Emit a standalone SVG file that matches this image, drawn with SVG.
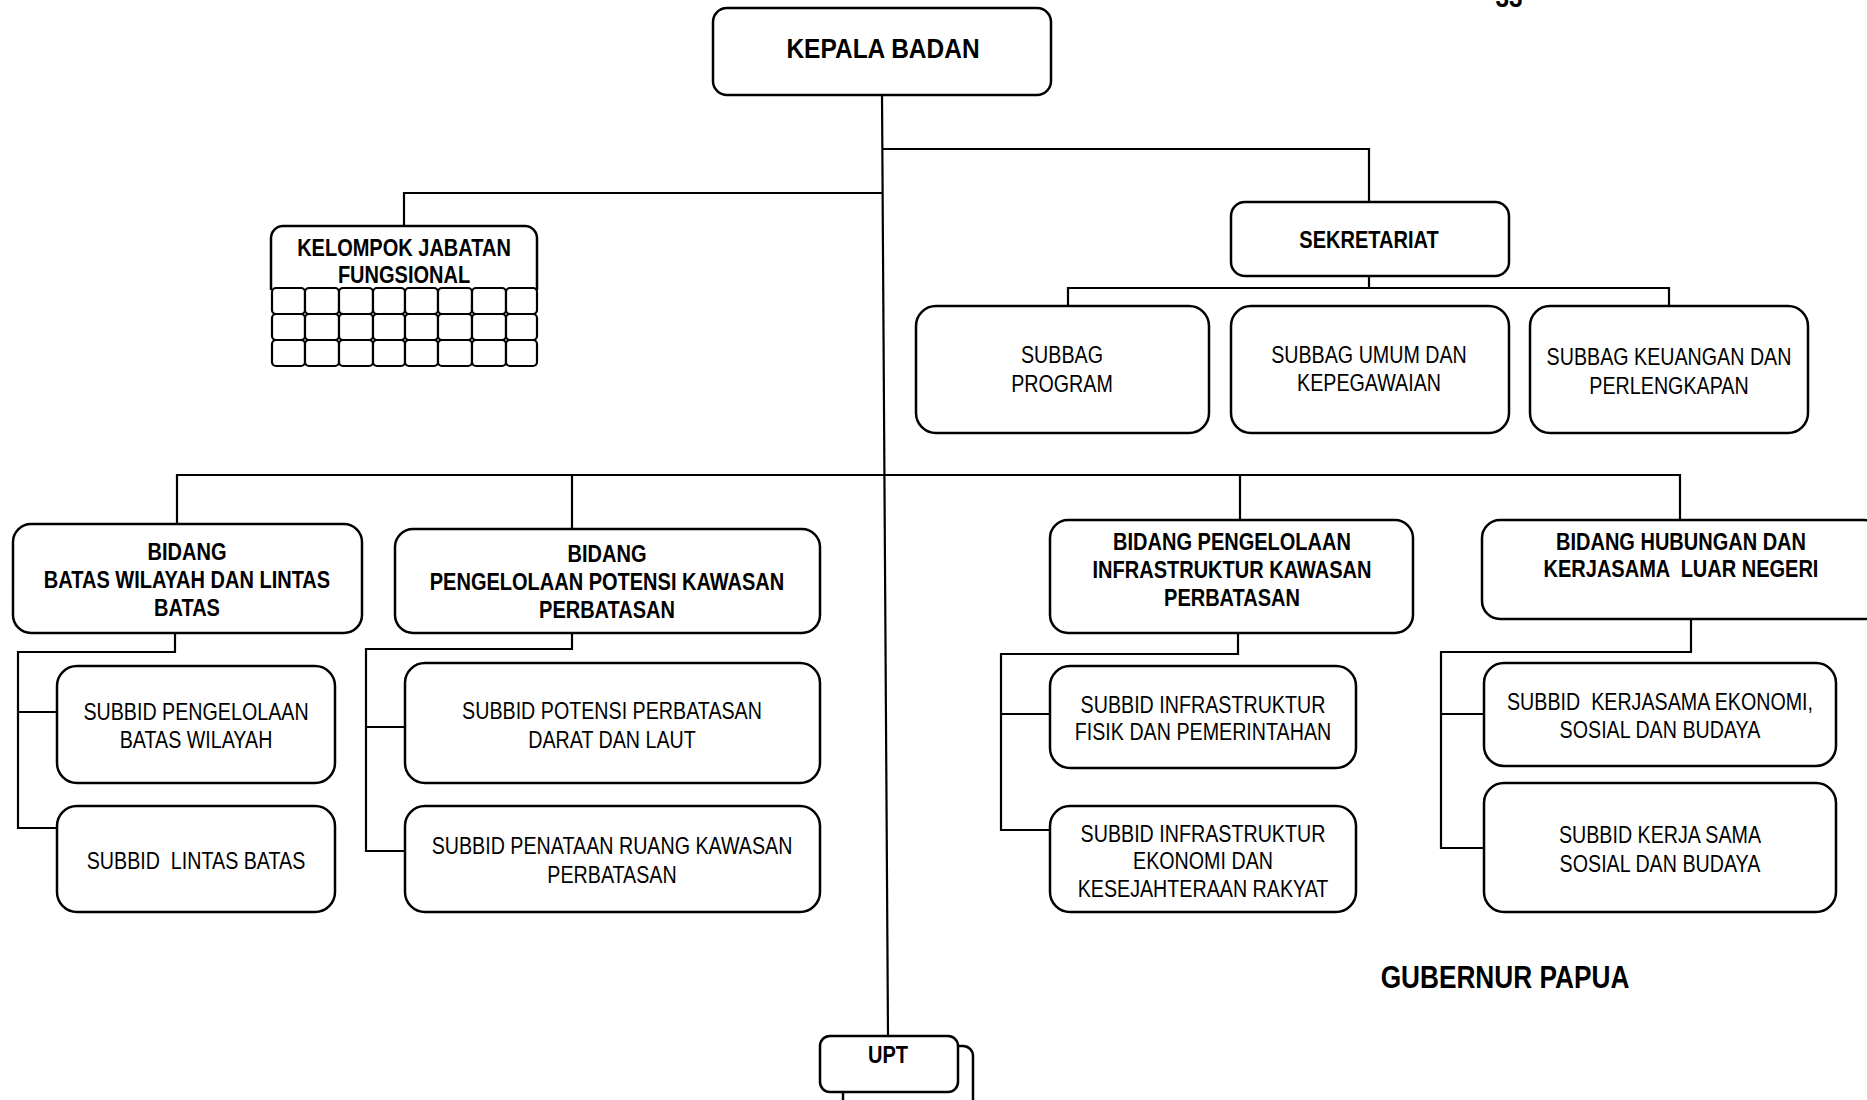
<svg xmlns="http://www.w3.org/2000/svg" width="1867" height="1100" viewBox="0 0 1867 1100">
<style>
.box{fill:#fff;stroke:#000;stroke-width:2.5}
.cell{fill:#fff;stroke:#000;stroke-width:2.2}
.ln{fill:none;stroke:#000;stroke-width:2.2}
text{font-family:"Liberation Sans",Arial,sans-serif;text-anchor:middle;fill:#000}
.b{font-weight:bold;font-size:23px}
.r{font-size:24px}
.big{font-weight:bold;font-size:28px}
.gub{font-weight:bold;font-size:32px}
</style>
<rect width="1867" height="1100" fill="#fff"/>
<g id="connectors">
<path class="ln" d="M882,95 L888,1036"/>
<path class="ln" d="M883,149 H1369 V202"/>
<path class="ln" d="M883,193 H404 V226"/>
<path class="ln" d="M1369,276 V288 M1068,306 V288 H1669 V306"/>
<path class="ln" d="M177,524 V475 H1680 V520 M572,475 V529 M1240,475 V520"/>
<path class="ln" d="M175,633 V652 H18 V828 H57 M18,712 H57"/>
<path class="ln" d="M572,633 V649 H366 V851 H405 M366,727 H405"/>
<path class="ln" d="M1238,633 V654 H1001 V830 H1050 M1001,714 H1050"/>
<path class="ln" d="M1691,619 V652 H1441 V848 H1484 M1441,714 H1484"/>
</g>
<g id="page-number"><text class="big" transform="translate(1509 7) scale(.87 1)">33</text></g>
<g id="kepala-badan">
<rect class="box" x="713" y="8" width="338" height="87" rx="14"/>
<text class="big" transform="translate(883 58) scale(.875 1)">KEPALA BADAN</text>
</g>
<g id="kelompok-jabatan-fungsional">
<path class="box" d="M271,290 V238 A12,12 0 0 1 283,226 H525 A12,12 0 0 1 537,238 V290"/>
<g>
<rect class="cell" x="272" y="288" width="33" height="26" rx="4"/><rect class="cell" x="305" y="288" width="34" height="26" rx="4"/><rect class="cell" x="339" y="288" width="34" height="26" rx="4"/><rect class="cell" x="373" y="288" width="32" height="26" rx="4"/><rect class="cell" x="405" y="288" width="33" height="26" rx="4"/><rect class="cell" x="438" y="288" width="34" height="26" rx="4"/><rect class="cell" x="472" y="288" width="34" height="26" rx="4"/><rect class="cell" x="506" y="288" width="31" height="26" rx="4"/>
<rect class="cell" x="272" y="314" width="33" height="26" rx="4"/><rect class="cell" x="305" y="314" width="34" height="26" rx="4"/><rect class="cell" x="339" y="314" width="34" height="26" rx="4"/><rect class="cell" x="373" y="314" width="32" height="26" rx="4"/><rect class="cell" x="405" y="314" width="33" height="26" rx="4"/><rect class="cell" x="438" y="314" width="34" height="26" rx="4"/><rect class="cell" x="472" y="314" width="34" height="26" rx="4"/><rect class="cell" x="506" y="314" width="31" height="26" rx="4"/>
<rect class="cell" x="272" y="340" width="33" height="26" rx="4"/><rect class="cell" x="305" y="340" width="34" height="26" rx="4"/><rect class="cell" x="339" y="340" width="34" height="26" rx="4"/><rect class="cell" x="373" y="340" width="32" height="26" rx="4"/><rect class="cell" x="405" y="340" width="33" height="26" rx="4"/><rect class="cell" x="438" y="340" width="34" height="26" rx="4"/><rect class="cell" x="472" y="340" width="34" height="26" rx="4"/><rect class="cell" x="506" y="340" width="31" height="26" rx="4"/>
</g>
<text class="b" transform="translate(404 256) scale(.87 1)">KELOMPOK JABATAN<tspan x="0" dy="27">FUNGSIONAL</tspan></text>
</g>
<g id="sekretariat">
<rect class="box" x="1231" y="202" width="278" height="74" rx="14"/>
<text class="b" transform="translate(1369 248) scale(.87 1)">SEKRETARIAT</text>
</g>
<g id="subbag-program">
<rect class="box" x="916" y="306" width="293" height="127" rx="20"/>
<text class="r" transform="translate(1062 363) scale(.82 1)">SUBBAG<tspan x="0" dy="29">PROGRAM</tspan></text>
</g>
<g id="subbag-umum">
<rect class="box" x="1231" y="306" width="278" height="127" rx="20"/>
<text class="r" transform="translate(1369 363) scale(.82 1)">SUBBAG UMUM DAN<tspan x="0" dy="28">KEPEGAWAIAN</tspan></text>
</g>
<g id="subbag-keuangan">
<rect class="box" x="1530" y="306" width="278" height="127" rx="20"/>
<text class="r" transform="translate(1669 365) scale(.82 1)">SUBBAG KEUANGAN DAN<tspan x="0" dy="29">PERLENGKAPAN</tspan></text>
</g>
<g id="bidang-batas">
<rect class="box" x="13" y="524" width="349" height="109" rx="18"/>
<text class="b" transform="translate(187 560) scale(.87 1)">BIDANG<tspan x="0" dy="28">BATAS WILAYAH DAN LINTAS</tspan><tspan x="0" dy="28">BATAS</tspan></text>
</g>
<g id="bidang-potensi">
<rect class="box" x="395" y="529" width="425" height="104" rx="18"/>
<text class="b" transform="translate(607 562) scale(.87 1)">BIDANG<tspan x="0" dy="28">PENGELOLAAN POTENSI KAWASAN</tspan><tspan x="0" dy="28">PERBATASAN</tspan></text>
</g>
<g id="bidang-infrastruktur">
<rect class="box" x="1050" y="520" width="363" height="113" rx="18"/>
<text class="b" transform="translate(1232 550) scale(.87 1)">BIDANG PENGELOLAAN<tspan x="0" dy="28">INFRASTRUKTUR KAWASAN</tspan><tspan x="0" dy="28">PERBATASAN</tspan></text>
</g>
<g id="bidang-hubungan">
<rect class="box" x="1482" y="520" width="400" height="99" rx="18"/>
<text class="b" transform="translate(1681 550) scale(.87 1)">BIDANG HUBUNGAN DAN<tspan x="0" dy="27" xml:space="preserve">KERJASAMA  LUAR NEGERI</tspan></text>
</g>
<g id="subbid-pengelolaan-batas">
<rect class="box" x="57" y="666" width="278" height="117" rx="20"/>
<text class="r" transform="translate(196 720) scale(.82 1)">SUBBID PENGELOLAAN<tspan x="0" dy="28">BATAS WILAYAH</tspan></text>
</g>
<g id="subbid-lintas-batas">
<rect class="box" x="57" y="806" width="278" height="106" rx="20"/>
<text class="r" transform="translate(196 869) scale(.82 1)" xml:space="preserve">SUBBID  LINTAS BATAS</text>
</g>
<g id="subbid-potensi">
<rect class="box" x="405" y="663" width="415" height="120" rx="20"/>
<text class="r" transform="translate(612 719) scale(.82 1)">SUBBID POTENSI PERBATASAN<tspan x="0" dy="29">DARAT DAN LAUT</tspan></text>
</g>
<g id="subbid-penataan">
<rect class="box" x="405" y="806" width="415" height="106" rx="20"/>
<text class="r" transform="translate(612 854) scale(.82 1)">SUBBID PENATAAN RUANG KAWASAN<tspan x="0" dy="29">PERBATASAN</tspan></text>
</g>
<g id="subbid-infra-fisik">
<rect class="box" x="1050" y="666" width="306" height="102" rx="20"/>
<text class="r" transform="translate(1203 713) scale(.82 1)">SUBBID INFRASTRUKTUR<tspan x="0" dy="27">FISIK DAN PEMERINTAHAN</tspan></text>
</g>
<g id="subbid-infra-ekonomi">
<rect class="box" x="1050" y="806" width="306" height="106" rx="20"/>
<text class="r" transform="translate(1203 842) scale(.82 1)">SUBBID INFRASTRUKTUR<tspan x="0" dy="27">EKONOMI DAN</tspan><tspan x="0" dy="28">KESEJAHTERAAN RAKYAT</tspan></text>
</g>
<g id="subbid-kerjasama-ekonomi">
<rect class="box" x="1484" y="663" width="352" height="103" rx="20"/>
<text class="r" transform="translate(1660 710) scale(.82 1)" xml:space="preserve">SUBBID  KERJASAMA EKONOMI,<tspan x="0" dy="28">SOSIAL DAN BUDAYA</tspan></text>
</g>
<g id="subbid-kerja-sama-sosial">
<rect class="box" x="1484" y="783" width="352" height="129" rx="20"/>
<text class="r" transform="translate(1660 843) scale(.82 1)">SUBBID KERJA SAMA<tspan x="0" dy="29">SOSIAL DAN BUDAYA</tspan></text>
</g>
<g id="gubernur-papua">
<text class="gub" transform="translate(1505 988) scale(.82 1)">GUBERNUR PAPUA</text>
</g>
<g id="upt">
<rect class="box" x="843" y="1046" width="130" height="70" rx="10"/>
<rect class="box" x="820" y="1036" width="138" height="56" rx="10"/>
<text class="b" transform="translate(888 1063) scale(.87 1)">UPT</text>
</g>
</svg>
